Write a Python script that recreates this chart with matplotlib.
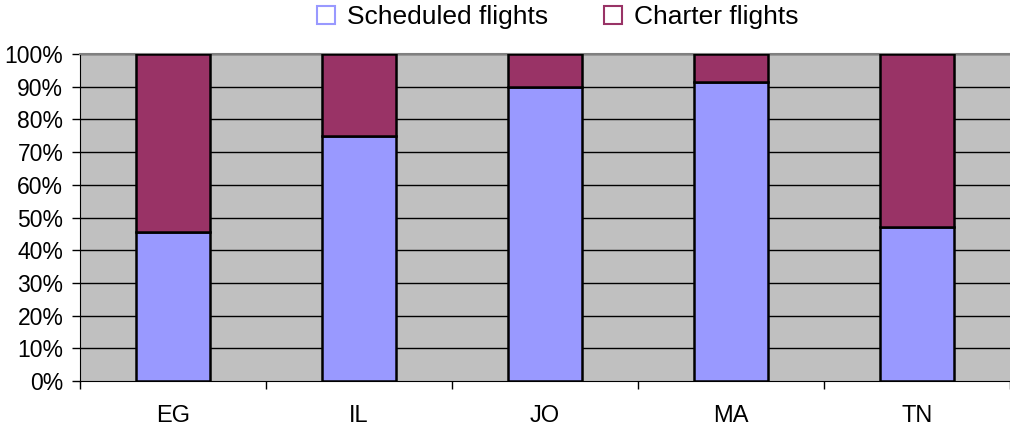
import numpy as np
import matplotlib
matplotlib.use('Agg')
import matplotlib.pyplot as plt

plt.rcParams['font.family'] = ['Liberation Sans', 'DejaVu Sans']

# ── data ──
countries = ['EG', 'IL', 'JO', 'MA', 'TN']
scheduled = [45.6, 75.0, 89.8, 91.3, 47.0]
charter = [100 - v for v in scheduled]
yticks = np.arange(0, 101, 10)

fig = plt.figure(figsize=(10.1, 4.28), dpi=100)
ax = fig.add_axes([80 / 1010, 47 / 428, 930 / 1010, 327 / 428])
ax.set_facecolor('#C0C0C0')

x = np.arange(len(countries))
w = 0.4
ax.bar(x, scheduled, w, color='#9999FF', edgecolor='black', lw=1.8, zorder=3)
ax.bar(x, charter, w, bottom=scheduled, color='#993366', edgecolor='black', lw=1.8, zorder=3)

ax.set_xlim(-0.5, len(countries) - 0.5)
ax.set_ylim(0, 100)
ax.set_yticks(yticks)
ax.set_yticklabels([f'{v}%' for v in yticks], fontsize=16.5)
for v in yticks[1:]:
    ax.axhline(v, color='black', lw=1, zorder=1)

# category labels centred, tick marks on the boundaries
ax.set_xticks(x)
ax.set_xticklabels(countries, fontsize=17)
ax.tick_params(axis='x', length=0, pad=17)
ax.set_xticks(np.arange(-0.5, len(countries)), minor=True)
ax.tick_params(axis='x', which='minor', length=6, width=1, direction='out')
ax.tick_params(axis='y', length=6, width=1, direction='out', pad=6)

ax.spines['top'].set_color('#808080'); ax.spines['top'].set_linewidth(1.5)
ax.spines['right'].set_visible(False)
ax.spines['left'].set_color('black')
ax.spines['bottom'].set_color('black')

# legend with hollow squares
h1 = plt.Line2D([], [], ls='none', marker='s', ms=13, mfc='white', mec='#9999FF', mew=1.5)
h2 = plt.Line2D([], [], ls='none', marker='s', ms=13, mfc='white', mec='#993366', mew=1.5)
fig.legend([h1, h2], ['Scheduled flights', 'Charter flights'], loc='center',
           bbox_to_anchor=(556 / 1010, 1 - 17 / 428), ncol=2, frameon=False,
           fontsize=19, handletextpad=0.35, columnspacing=2.0, handlelength=0.9,
           borderpad=0)

fig.savefig('out.png', dpi=100)
